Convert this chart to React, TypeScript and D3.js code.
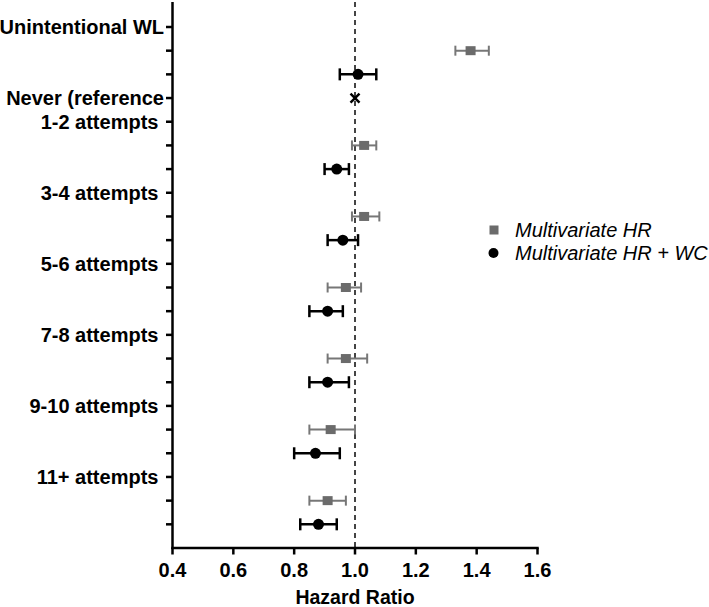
import React from "react";
import * as d3 from "d3";

const W = 709;
const H = 607;

// category labels and their row positions
const labels = ["Unintentional WL", "Never (reference", "1-2 attempts ", "3-4 attempts ", "5-6 attempts ", "7-8 attempts ", "9-10 attempts ", "11+ attempts "];
const labelRows = [0, 3, 4, 7, 10, 13, 16, 19];

// Multivariate HR (grey squares)
const sqRows = [1, 5, 8, 11, 14, 17, 20];
const sqHR = [1.38, 1.03, 1.03, 0.97, 0.97, 0.92, 0.91];
const sqLo = [1.33, 0.99, 0.99, 0.91, 0.91, 0.85, 0.85];
const sqHi = [1.44, 1.07, 1.08, 1.02, 1.04, 1.0, 0.97];

// Multivariate HR + WC (black circles)
const ciRows = [2, 6, 9, 12, 15, 18, 21];
const ciHR = [1.01, 0.94, 0.96, 0.91, 0.91, 0.87, 0.88];
const ciLo = [0.95, 0.9, 0.91, 0.85, 0.85, 0.8, 0.82];
const ciHi = [1.07, 0.98, 1.01, 0.96, 0.98, 0.95, 0.94];

// reference
const refRow = 3;
const refHR = 1.0;

const xTicks = [0.4, 0.6, 0.8, 1.0, 1.2, 1.4, 1.6];
const yTickRows = d3.range(0, 22);
const legendItems = ["Multivariate HR", "Multivariate HR + WC"];

const FONT = "Liberation Sans, Arial, sans-serif";

export default function App() {
  const x = d3.scaleLinear().domain([0.4, 1.6]).range([172.5, 537.5]);
  const y = d3.scaleLinear().domain([0, 22]).range([27, 548]);
  const yTop = 2;
  const grey = "#6b6b6b";

  return (
    <svg width={W} height={H} style={{ position: "absolute", left: 0, top: 0, display: "block", background: "#fff" }}>
      {/* reference dashed line */}
      <line x1={x(1)} x2={x(1)} y1={yTop} y2={y(22)} stroke="#444" strokeWidth={2} strokeDasharray="5,4" />

      {/* y axis */}
      <line x1={x(0.4)} x2={x(0.4)} y1={yTop} y2={y(22) + 1} stroke="#000" strokeWidth={2.5} />
      {yTickRows.map((r) => (
        <line key={r} x1={x(0.4) - 6.5} x2={x(0.4)} y1={y(r)} y2={y(r)} stroke="#000" strokeWidth={2.5} />
      ))}
      {labels.map((l, i) => (
        <text key={l} x={164} y={y(labelRows[i])} dy="0.36em" textAnchor="end" fontFamily={FONT} fontWeight="bold" fontSize={20} style={{ whiteSpace: "pre" }}>
          {l}
        </text>
      ))}

      {/* x axis */}
      <line x1={x(0.4) - 1.25} x2={x(1.6) + 1.25} y1={y(22)} y2={y(22)} stroke="#000" strokeWidth={2.5} />
      {xTicks.map((t) => (
        <g key={t}>
          <line x1={x(t)} x2={x(t)} y1={y(22)} y2={y(22) + 6.5} stroke="#000" strokeWidth={2.5} />
          <text x={x(t)} y={y(22) + 29} textAnchor="middle" fontFamily={FONT} fontWeight="bold" fontSize={20}>
            {t.toFixed(1)}
          </text>
        </g>
      ))}
      <text x={x(1)} y={604} textAnchor="middle" fontFamily={FONT} fontWeight="bold" fontSize={19.5}>
        Hazard Ratio
      </text>

      {/* squares */}
      {sqRows.map((r, i) => (
        <g key={"s" + r}>
          <line x1={x(sqLo[i])} x2={x(sqHi[i])} y1={y(r)} y2={y(r)} stroke="#777" strokeWidth={2} />
          <line x1={x(sqLo[i])} x2={x(sqLo[i])} y1={y(r) - 5} y2={y(r) + 5} stroke="#777" strokeWidth={2} />
          <line x1={x(sqHi[i])} x2={x(sqHi[i])} y1={y(r) - 5} y2={y(r) + 5} stroke="#777" strokeWidth={2} />
          <rect x={x(sqHR[i]) - 5} y={y(r) - 4.5} width={10} height={9} fill={grey} />
        </g>
      ))}

      {/* circles */}
      {ciRows.map((r, i) => (
        <g key={"c" + r}>
          <line x1={x(ciLo[i])} x2={x(ciHi[i])} y1={y(r)} y2={y(r)} stroke="#000" strokeWidth={2.5} />
          <line x1={x(ciLo[i])} x2={x(ciLo[i])} y1={y(r) - 6} y2={y(r) + 6} stroke="#000" strokeWidth={2.5} />
          <line x1={x(ciHi[i])} x2={x(ciHi[i])} y1={y(r) - 6} y2={y(r) + 6} stroke="#000" strokeWidth={2.5} />
          <circle cx={x(ciHR[i])} cy={y(r)} r={5.5} fill="#000" />
        </g>
      ))}

      {/* reference x marker */}
      <g stroke="#000" strokeWidth={2.5}>
        <line x1={x(refHR) - 4.5} x2={x(refHR) + 4.5} y1={y(refRow) - 4.5} y2={y(refRow) + 4.5} />
        <line x1={x(refHR) - 4.5} x2={x(refHR) + 4.5} y1={y(refRow) + 4.5} y2={y(refRow) - 4.5} />
      </g>

      {/* legend */}
      <rect x={489.5} y={225.5} width={9} height={9} fill={grey} />
      <circle cx={493.5} cy={253} r={5} fill="#000" />
      {legendItems.map((t, i) => (
        <text key={t} x={515} y={230 + i * 23} dy="0.36em" fontFamily={FONT} fontStyle="italic" fontSize={20}>
          {t}
        </text>
      ))}
    </svg>
  );
}
